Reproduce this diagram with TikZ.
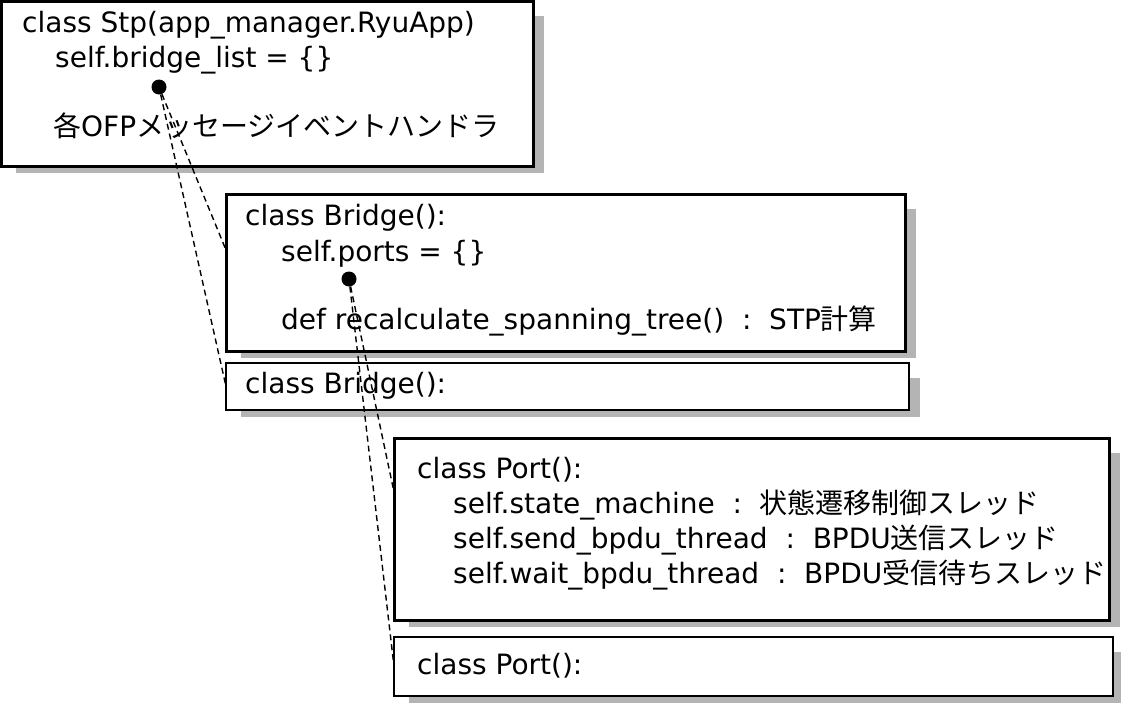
\documentclass[tikz,border=0pt]{standalone}
\usepackage{fontspec}
\setmainfont{DejaVu Sans}
\newfontfamily\jp{Noto Sans CJK JP}
\usepackage{tikz}
\usetikzlibrary{backgrounds}
\definecolor{shadowgray}{HTML}{B4B4B4}

\tikzset{
  classbox/.style={draw=black,fill=white,line width=3pt,anchor=north west,
    inner sep=0pt,outer sep=0pt},
  stubbox/.style={classbox,line width=2pt},
  codeline/.style={anchor=base west,inner sep=0pt,font=\fontsize{28}{33}\selectfont},
  refdot/.style={circle,fill=black,inner sep=0pt,minimum size=15pt},
  reflink/.style={line width=1.4pt,dash pattern=on 6pt off 4pt}
}

\begin{document}
\begin{tikzpicture}[x=1pt,y=-1pt]
  \useasboundingbox (0,0) rectangle (1121,704);

  % class boxes
  \node[classbox,minimum width=532pt,minimum height=165pt] (stp) at (1,1) {};
  \node[classbox,minimum width=679pt,minimum height=157pt] (bridge) at (226,194) {};
  \node[stubbox,minimum width=683pt,minimum height=47pt] (bridge2) at (226,363) {};
  \node[classbox,minimum width=715pt,minimum height=182pt] (port) at (394,438) {};
  \node[stubbox,minimum width=719pt,minimum height=59pt] (port2) at (394,637) {};

  \begin{pgfonlayer}{background}
    \foreach \b in {stp,bridge,bridge2,port,port2}
      \fill[shadowgray] ([shift={(15,15)}]\b.north west) rectangle ([shift={(11,7)}]\b.south east);
  \end{pgfonlayer}

  \node[codeline] (stpname) at (22,32) {class Stp(app\_manager.RyuApp)};
  \node[codeline] (bridgelist) at (55,67) {self.bridge\_list = \{\}};
  \node[codeline] (handlers) at (53,136) {{\jp 各}OFP{\jp メッセージイベントハンドラ}};

  \node[codeline] (bridgename) at (245,225) {class Bridge():};
  \node[codeline] (ports) at (281,261) {self.ports = \{\}};
  \node[codeline] (recalc) at (281,329) {def recalculate\_spanning\_tree()\ \ :\ \ STP{\jp 計算}};
  \node[codeline] (bridgename2) at (245,393) {class Bridge():};

  \node[codeline] (portname) at (417,478) {class Port():};
  \node[codeline] (statemachine) at (453,513) {self.state\_machine\ \ :\ \ {\jp 状態遷移制御スレッド}};
  \node[codeline] (sendbpdu) at (453,548) {self.send\_bpdu\_thread\ \ :\ \ BPDU{\jp 送信スレッド}};
  \node[codeline] (waitbpdu) at (453,583) {self.wait\_bpdu\_thread\ \ :\ \ BPDU{\jp 受信待ちスレッド}};
  \node[codeline] (portname2) at (417,674) {class Port():};

  \node[refdot] (listdot) at (159,87) {};
  \node[refdot] (portsdot) at (349,279) {};

  \draw[reflink] (listdot) -- ([shift={(0,56)}]bridge.north west);
  \draw[reflink] (listdot) -- (bridge2.west);
  \draw[reflink] (portsdot) -- ([shift={(0,54)}]port.north west);
  \draw[reflink] (portsdot) -- (port2.west);
\end{tikzpicture}
\end{document}
